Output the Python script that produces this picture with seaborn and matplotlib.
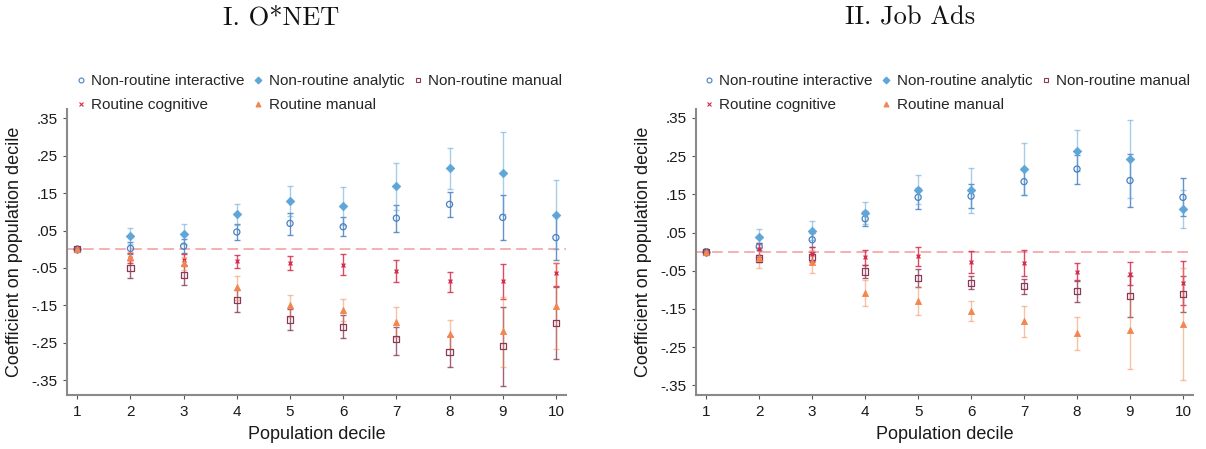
import numpy as np
import matplotlib
matplotlib.use("Agg")
import matplotlib.pyplot as plt
from matplotlib.lines import Line2D
from matplotlib.ticker import FixedLocator, FuncFormatter
import seaborn as sns

# ---- data -----------------------------------------------------------------
deciles = [1, 2, 3, 4, 5, 6, 7, 8, 9, 10]

# Panel I: O*NET
onet_interactive = [0, 0.002, 0.008, 0.046, 0.069, 0.060, 0.083, 0.120, 0.085, 0.031]
onet_interactive_lo = [0, -0.012, -0.010, 0.024, 0.039, 0.035, 0.045, 0.086, 0.024, -0.029]
onet_interactive_hi = [0, 0.018, 0.027, 0.068, 0.096, 0.086, 0.118, 0.153, 0.144, 0.091]

onet_analytic = [0, 0.036, 0.040, 0.093, 0.129, 0.115, 0.168, 0.216, 0.203, 0.092]
onet_analytic_lo = [0, 0.014, 0.013, 0.066, 0.090, 0.064, 0.106, 0.161, 0.093, 0.000]
onet_analytic_hi = [0, 0.058, 0.067, 0.120, 0.170, 0.166, 0.230, 0.270, 0.313, 0.184]

onet_nr_manual = [0, -0.051, -0.070, -0.137, -0.188, -0.207, -0.241, -0.274, -0.260, -0.198]
onet_nr_manual_lo = [0, -0.076, -0.096, -0.167, -0.217, -0.237, -0.283, -0.316, -0.365, -0.293]
onet_nr_manual_hi = [0, -0.029, -0.046, -0.110, -0.159, -0.176, -0.207, -0.232, -0.155, -0.098]

onet_cognitive = [0, -0.024, -0.029, -0.032, -0.037, -0.042, -0.059, -0.086, -0.086, -0.065]
onet_cognitive_lo = [0, -0.038, -0.043, -0.049, -0.056, -0.070, -0.088, -0.114, -0.133, -0.100]
onet_cognitive_hi = [0, -0.010, -0.014, -0.016, -0.018, -0.013, -0.029, -0.060, -0.040, -0.036]

onet_r_manual = [0, -0.020, -0.038, -0.102, -0.150, -0.162, -0.195, -0.227, -0.220, -0.153]
onet_r_manual_lo = [0, -0.032, -0.055, -0.135, -0.182, -0.191, -0.235, -0.267, -0.314, -0.267]
onet_r_manual_hi = [0, -0.008, -0.020, -0.072, -0.123, -0.134, -0.155, -0.190, -0.127, -0.037]

# Panel II: Job Ads
ads_interactive = [0, 0.013, 0.031, 0.086, 0.142, 0.145, 0.183, 0.216, 0.186, 0.142]
ads_interactive_lo = [0, 0.003, 0.013, 0.067, 0.111, 0.114, 0.148, 0.178, 0.117, 0.092]
ads_interactive_hi = [0, 0.023, 0.049, 0.105, 0.166, 0.177, 0.218, 0.254, 0.255, 0.193]

ads_analytic = [0, 0.039, 0.055, 0.101, 0.162, 0.160, 0.216, 0.264, 0.243, 0.112]
ads_analytic_lo = [0, 0.019, 0.030, 0.072, 0.124, 0.101, 0.148, 0.211, 0.141, 0.062]
ads_analytic_hi = [0, 0.059, 0.080, 0.130, 0.200, 0.219, 0.284, 0.317, 0.345, 0.162]

ads_nr_manual = [0, -0.018, -0.015, -0.052, -0.070, -0.082, -0.091, -0.104, -0.116, -0.111]
ads_nr_manual_lo = [0, -0.028, -0.028, -0.070, -0.093, -0.098, -0.110, -0.131, -0.172, -0.158]
ads_nr_manual_hi = [0, -0.008, -0.002, -0.035, -0.045, -0.064, -0.072, -0.076, -0.064, -0.065]

ads_cognitive = [0, 0.007, -0.006, -0.015, -0.012, -0.027, -0.029, -0.052, -0.058, -0.082]
ads_cognitive_lo = [0, -0.013, -0.024, -0.035, -0.038, -0.056, -0.065, -0.075, -0.088, -0.140]
ads_cognitive_hi = [0, 0.022, 0.012, 0.005, 0.013, 0.001, 0.005, -0.031, -0.027, -0.024]

ads_r_manual = [0, -0.017, -0.027, -0.107, -0.128, -0.154, -0.181, -0.214, -0.206, -0.189]
ads_r_manual_lo = [0, -0.043, -0.057, -0.141, -0.166, -0.182, -0.222, -0.258, -0.308, -0.337]
ads_r_manual_hi = [0, 0.009, 0.005, -0.075, -0.093, -0.128, -0.143, -0.172, -0.108, -0.043]

panel_titles = ["I. O*NET", "II. Job Ads"]
y_ticks = [-0.35, -0.25, -0.15, -0.05, 0.05, 0.15, 0.25, 0.35]

# ---- styling -------------------------------------------------------------
sns.set_theme(style="white")
plt.rcParams["font.family"] = ["Liberation Sans", "DejaVu Sans"]

# name: colour, marker, size (pt), filled, error-bar alpha
styles = {
    "Non-routine interactive": ("#4a80c2", "o", 4.4, False, 0.85),
    "Non-routine analytic": ("#5ea6d8", "D", 4.3, True, 0.55),
    "Non-routine manual": ("#8a3a58", "s", 4.4, False, 0.80),
    "Routine cognitive": ("#d62c4c", "x", 2.8, True, 0.85),
    "Routine manual": ("#f2864f", "^", 4.4, True, 0.50),
}

panels = [
    {
        "Non-routine interactive": (onet_interactive, onet_interactive_lo, onet_interactive_hi),
        "Non-routine analytic": (onet_analytic, onet_analytic_lo, onet_analytic_hi),
        "Non-routine manual": (onet_nr_manual, onet_nr_manual_lo, onet_nr_manual_hi),
        "Routine cognitive": (onet_cognitive, onet_cognitive_lo, onet_cognitive_hi),
        "Routine manual": (onet_r_manual, onet_r_manual_lo, onet_r_manual_hi),
    },
    {
        "Non-routine interactive": (ads_interactive, ads_interactive_lo, ads_interactive_hi),
        "Non-routine analytic": (ads_analytic, ads_analytic_lo, ads_analytic_hi),
        "Non-routine manual": (ads_nr_manual, ads_nr_manual_lo, ads_nr_manual_hi),
        "Routine cognitive": (ads_cognitive, ads_cognitive_lo, ads_cognitive_hi),
        "Routine manual": (ads_r_manual, ads_r_manual_lo, ads_r_manual_hi),
    },
]

fig = plt.figure(figsize=(12.06, 4.49), dpi=100)
ax_rects = [
    [67 / 1206, 54 / 449, 499 / 1206, 286 / 449],
    [696 / 1206, 54 / 449, 497 / 1206, 286 / 449],
]
ylims = [(-0.39, 0.375), (-0.375, 0.373)]
title_x = [281 / 1206, 910 / 1206]
legend_x = [76 / 1206, 704 / 1206]

for i, data in enumerate(panels):
    ax = fig.add_axes(ax_rects[i])
    ax.axhline(0, color="#f49a9a", lw=1.1, dashes=(7, 3.5), zorder=1)

    for name, (est, lo, hi) in data.items():
        color, marker, ms, filled, ealpha = styles[name]
        est = np.array(est)
        err = np.vstack([est - np.array(lo), np.array(hi) - est])
        ax.errorbar(deciles, est, yerr=err, fmt="none", ecolor=color,
                    elinewidth=1.0, capsize=1.9, capthick=1.0,
                    alpha=ealpha, zorder=2)
        if marker == "x":
            sns.scatterplot(x=deciles, y=est, ax=ax, marker="x", color=color,
                            s=ms ** 2, linewidth=1.0, zorder=3, legend=False)
        elif filled:
            sns.scatterplot(x=deciles, y=est, ax=ax, marker=marker, color=color,
                            s=ms ** 2, edgecolor=color, linewidth=0.6,
                            zorder=3, legend=False)
        else:
            sns.scatterplot(x=deciles, y=est, ax=ax, marker=marker,
                            facecolor="none", edgecolor=color, s=ms ** 2,
                            linewidth=0.9, zorder=3, legend=False)

    ax.set_xlim(0.806, 10.19)
    ax.set_ylim(*ylims[i])
    ax.set_xticks(deciles)
    ax.yaxis.set_major_locator(FixedLocator(y_ticks))
    ax.yaxis.set_major_formatter(
        FuncFormatter(lambda v, p: f"{v:.2f}".replace("0.", ".")))
    ax.tick_params(axis="both", which="major", labelsize=11, length=3,
                   width=0.8, color="#555555", labelcolor="#1a1a1a",
                   direction="out", bottom=True, left=True, pad=4)
    ax.set_xlabel("Population decile", fontsize=13, color="#1a1a1a", labelpad=5)
    ax.set_ylabel("Coefficient on population decile", fontsize=13,
                  color="#1a1a1a", labelpad=6)
    for side in ["top", "right"]:
        ax.spines[side].set_visible(False)
    for side in ["left", "bottom"]:
        ax.spines[side].set_color("#8a8a8a")
        ax.spines[side].set_linewidth(1.5)
    ax.grid(False)

    fig.text(title_x[i], 1 - 18 / 449, panel_titles[i], ha="center",
             va="center", fontsize=19, family="cmr10", color="#111111")

    # legend: row 1 = interactive, analytic, NR manual; row 2 = cognitive, R manual
    order = ["Non-routine interactive", "Routine cognitive", "Non-routine analytic",
             "Routine manual", "Non-routine manual"]
    handles = []
    for name in order:
        color, marker, ms, filled, _ = styles[name]
        handles.append(Line2D([], [], ls="none", marker=marker,
                              markersize=ms * 0.8,
                              markerfacecolor=color if filled else "none",
                              markeredgecolor=color, markeredgewidth=0.8))
    fig.legend(handles, order, loc="upper left",
               bbox_to_anchor=(legend_x[i], 1 - 74 / 449), ncol=3,
               frameon=False, fontsize=11, handlelength=0.6,
               handletextpad=0.38, columnspacing=0.6, labelspacing=0.65,
               borderaxespad=0, borderpad=0)

fig.savefig("out.png", dpi=100)
